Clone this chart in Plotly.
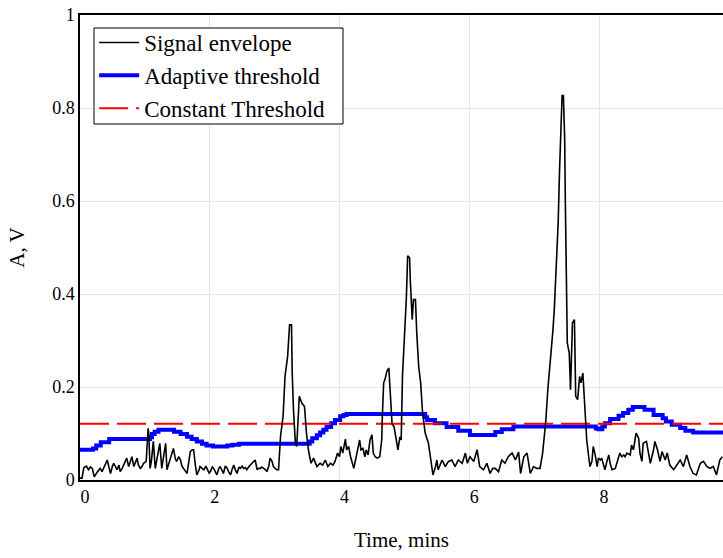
import plotly.graph_objects as go

# Signal envelope (time in mins, amplitude in V)
sig_t = [0.00, 0.03, 0.06, 0.10, 0.13, 0.16, 0.19, 0.22, 0.27, 0.31, 0.34, 0.38, 0.42, 0.45, 0.47, 0.50,
         0.52, 0.55, 0.57, 0.60, 0.62, 0.65, 0.67, 0.70, 0.72, 0.75, 0.78, 0.80, 0.83, 0.86, 0.88, 0.90,
         0.93, 0.96, 0.98, 1.02, 1.05, 1.06, 1.08, 1.10, 1.13, 1.16, 1.19, 1.23, 1.26, 1.29, 1.32, 1.34,
         1.37, 1.39, 1.42, 1.44, 1.47, 1.49, 1.52, 1.55, 1.57, 1.60, 1.63, 1.65, 1.68, 1.70, 1.73, 1.75,
         1.78, 1.80, 1.83, 1.85, 1.88, 1.91, 1.94, 1.96, 1.99, 2.01, 2.04, 2.06, 2.09, 2.11, 2.14, 2.16,
         2.19, 2.21, 2.24, 2.27, 2.29, 2.32, 2.35, 2.37, 2.40, 2.42, 2.45, 2.47, 2.50, 2.52, 2.55, 2.57,
         2.61, 2.65, 2.70, 2.73, 2.75, 2.78, 2.80, 2.83, 2.86, 2.88, 2.91, 2.93, 2.96, 2.98, 3.01, 3.03,
         3.06, 3.09, 3.13, 3.16, 3.20, 3.23, 3.26, 3.27, 3.29, 3.32, 3.34, 3.37, 3.38, 3.42, 3.46, 3.49,
         3.52, 3.56, 3.60, 3.65, 3.70, 3.74, 3.78, 3.82, 3.86, 3.90, 3.93, 3.97, 4.00, 4.02, 4.05, 4.09,
         4.11, 4.14, 4.17, 4.22, 4.25, 4.28, 4.31, 4.33, 4.36, 4.39, 4.41, 4.44, 4.47, 4.50, 4.52, 4.55,
         4.58, 4.62, 4.65, 4.66, 4.68, 4.70, 4.73, 4.76, 4.77, 4.79, 4.81, 4.84, 4.87, 4.90, 4.93, 4.95,
         4.97, 5.00, 5.03, 5.05, 5.08, 5.09, 5.12, 5.14, 5.17, 5.19, 5.22, 5.25, 5.28, 5.32, 5.37, 5.40,
         5.44, 5.48, 5.50, 5.52, 5.55, 5.58, 5.63, 5.68, 5.73, 5.78, 5.83, 5.89, 5.94, 5.97, 6.01, 6.07,
         6.12, 6.16, 6.22, 6.27, 6.32, 6.36, 6.40, 6.45, 6.50, 6.55, 6.60, 6.66, 6.71, 6.76, 6.79, 6.84,
         6.89, 6.94, 6.99, 7.04, 7.09, 7.13, 7.15, 7.18, 7.21, 7.25, 7.29, 7.31, 7.34, 7.37, 7.39, 7.41,
         7.43, 7.45, 7.47, 7.48, 7.49, 7.51, 7.54, 7.56, 7.59, 7.62, 7.64, 7.67, 7.70, 7.72, 7.75, 7.79,
         7.81, 7.84, 7.86, 7.89, 7.91, 7.94, 7.97, 7.99, 8.02, 8.04, 8.07, 8.09, 8.12, 8.15, 8.17, 8.20,
         8.25, 8.27, 8.30, 8.32, 8.35, 8.38, 8.40, 8.43, 8.48, 8.50, 8.53, 8.57, 8.61, 8.63, 8.66, 8.68,
         8.73, 8.76, 8.79, 8.84, 8.86, 8.90, 8.94, 8.97, 9.02, 9.05, 9.09, 9.15, 9.20, 9.25, 9.30, 9.35,
         9.40, 9.45, 9.50, 9.56, 9.61, 9.66, 9.71, 9.76, 9.81, 9.86, 9.90]
sig_v = [0.004, 0.004, 0.027, 0.030, 0.022, 0.028, 0.025, 0.007, 0.018, 0.025, 0.018, 0.030, 0.043, 0.025, 0.014, 0.030,
         0.036, 0.028, 0.022, 0.032, 0.018, 0.025, 0.032, 0.040, 0.047, 0.029, 0.040, 0.050, 0.029, 0.040, 0.047, 0.032,
         0.025, 0.030, 0.036, 0.040, 0.111, 0.100, 0.025, 0.040, 0.083, 0.025, 0.045, 0.079, 0.025, 0.050, 0.079, 0.022,
         0.035, 0.043, 0.055, 0.068, 0.045, 0.040, 0.050, 0.043, 0.030, 0.025, 0.018, 0.014, 0.040, 0.061, 0.065, 0.065,
         0.030, 0.011, 0.020, 0.029, 0.025, 0.022, 0.030, 0.025, 0.015, 0.018, 0.028, 0.025, 0.015, 0.011, 0.025, 0.029,
         0.020, 0.014, 0.030, 0.025, 0.018, 0.011, 0.025, 0.032, 0.020, 0.014, 0.028, 0.025, 0.030, 0.025, 0.027, 0.022,
         0.030, 0.036, 0.043, 0.022, 0.025, 0.025, 0.028, 0.025, 0.022, 0.018, 0.030, 0.047, 0.040, 0.029, 0.025, 0.022,
         0.022, 0.093, 0.137, 0.223, 0.266, 0.334, 0.334, 0.234, 0.151, 0.079, 0.072, 0.151, 0.180, 0.165, 0.158, 0.101,
         0.065, 0.036, 0.047, 0.029, 0.036, 0.032, 0.043, 0.029, 0.036, 0.032, 0.040, 0.058, 0.050, 0.072, 0.058, 0.088,
         0.065, 0.072, 0.050, 0.025, 0.043, 0.065, 0.086, 0.065, 0.068, 0.050, 0.065, 0.054, 0.086, 0.097, 0.058, 0.050,
         0.047, 0.050, 0.086, 0.137, 0.209, 0.216, 0.234, 0.241, 0.216, 0.165, 0.120, 0.115, 0.093, 0.065, 0.093, 0.086,
         0.223, 0.302, 0.392, 0.482, 0.478, 0.431, 0.345, 0.388, 0.388, 0.316, 0.244, 0.209, 0.144, 0.101, 0.079, 0.050,
         0.011, 0.029, 0.043, 0.022, 0.035, 0.043, 0.029, 0.040, 0.043, 0.029, 0.043, 0.036, 0.058, 0.036, 0.050, 0.040,
         0.065, 0.029, 0.022, 0.036, 0.014, 0.025, 0.025, 0.018, 0.043, 0.036, 0.050, 0.058, 0.043, 0.060, 0.014, 0.050,
         0.058, 0.014, 0.029, 0.025, 0.025, 0.058, 0.086, 0.129, 0.194, 0.252, 0.324, 0.367, 0.446, 0.554, 0.662, 0.762,
         0.827, 0.827, 0.734, 0.600, 0.467, 0.295, 0.273, 0.194, 0.338, 0.345, 0.180, 0.173, 0.223, 0.209, 0.230, 0.122,
         0.086, 0.050, 0.029, 0.040, 0.072, 0.054, 0.029, 0.047, 0.043, 0.047, 0.029, 0.022, 0.040, 0.054, 0.036, 0.022,
         0.025, 0.036, 0.050, 0.058, 0.050, 0.054, 0.050, 0.058, 0.054, 0.075, 0.065, 0.101, 0.090, 0.058, 0.040, 0.079,
         0.083, 0.061, 0.036, 0.065, 0.083, 0.065, 0.040, 0.061, 0.043, 0.058, 0.032, 0.022, 0.032, 0.043, 0.029, 0.054,
         0.029, 0.014, 0.011, 0.036, 0.040, 0.029, 0.025, 0.029, 0.011, 0.043, 0.050]

# Adaptive threshold (stepwise)
adp_t = [0.00, 0.20, 0.25, 0.32, 0.45, 1.08, 1.11, 1.15, 1.21, 1.45, 1.55, 1.65, 1.72, 1.80, 1.88, 1.95,
         2.05, 2.27, 2.35, 2.45, 3.54, 3.58, 3.65, 3.70, 3.75, 3.80, 3.87, 3.93, 4.01, 4.06, 4.11, 5.32,
         5.35, 5.47, 5.65, 5.83, 6.01, 6.40, 6.50, 6.68, 7.95, 7.99, 8.05, 8.09, 8.17, 8.30, 8.37, 8.45,
         8.52, 8.70, 8.84, 8.98, 9.03, 9.12, 9.25, 9.33, 9.45, 9.91]
adp_v = [0.065, 0.068, 0.074, 0.081, 0.088, 0.092, 0.099, 0.104, 0.108, 0.104, 0.099, 0.093, 0.088, 0.083, 0.078, 0.074,
         0.072, 0.074, 0.076, 0.078, 0.083, 0.090, 0.096, 0.102, 0.108, 0.114, 0.122, 0.129, 0.137, 0.140, 0.142, 0.135,
         0.129, 0.122, 0.114, 0.106, 0.097, 0.103, 0.109, 0.115, 0.111, 0.109, 0.115, 0.122, 0.131, 0.138, 0.144, 0.151,
         0.157, 0.151, 0.140, 0.133, 0.126, 0.119, 0.112, 0.106, 0.102, 0.102]

# Constant threshold
const_t = [0.0, 9.91]
const_v = [0.121, 0.121]

x_ticks = [0, 2, 4, 6, 8]
y_ticks = [0, 0.2, 0.4, 0.6, 0.8, 1]

FONT = "Liberation Serif"
tickfont = dict(family=FONT, size=18, color="black")

fig = go.Figure()
fig.add_trace(go.Scatter(x=adp_t, y=adp_v, mode="lines", name="Adaptive threshold",
                         line=dict(color="#0000ff", width=4, shape="hv"), legendrank=2))
fig.add_trace(go.Scatter(x=const_t, y=const_v, mode="lines", name="Constant Threshold",
                         line=dict(color="#ff0000", width=2, dash="29px,8px"), legendrank=3))
fig.add_trace(go.Scatter(x=sig_t, y=sig_v, mode="lines", name="Signal envelope",
                         line=dict(color="#000000", width=1.6), legendrank=1))

# Legend frame (white box with black border, drawn above the traces)
fig.add_shape(type="rect", xref="paper", yref="paper",
              x0=(94 - 80) / 643, x1=(343 - 80) / 643,
              y0=(480 - 124) / 465, y1=(480 - 28) / 465,
              line=dict(color="black", width=1), fillcolor="white", layer="above")

fig.update_layout(
    width=723, height=558,
    margin=dict(l=80, r=0, t=15, b=78),
    paper_bgcolor="white", plot_bgcolor="white",
    font=dict(family=FONT, size=18, color="black"),
    showlegend=True,
    legend=dict(x=0.022, y=(480 - 21) / 465, xanchor="left", yanchor="top",
                bgcolor="rgba(0,0,0,0)", borderwidth=0,
                font=dict(family=FONT, size=23, color="black"),
                itemwidth=40, tracegroupgap=0),
    xaxis=dict(range=[0, 9.91], tickvals=x_ticks, ticks="", showgrid=True,
               gridcolor="#e6e6e6", gridwidth=1, showline=True, linecolor="black",
               linewidth=1.5, mirror=True, zeroline=False, ticklabelshift=5,
               tickfont=tickfont,
               title=dict(text="Time, mins", font=dict(family=FONT, size=21), standoff=26)),
    yaxis=dict(range=[0, 1], tickvals=y_ticks, ticks="", showgrid=True,
               gridcolor="#e6e6e6", gridwidth=1, showline=True, linecolor="black",
               linewidth=1.5, mirror=False, zeroline=False, tickfont=tickfont,
               title=dict(text="A, V", font=dict(family=FONT, size=21), standoff=22)),
)

fig.write_html("out.html")
